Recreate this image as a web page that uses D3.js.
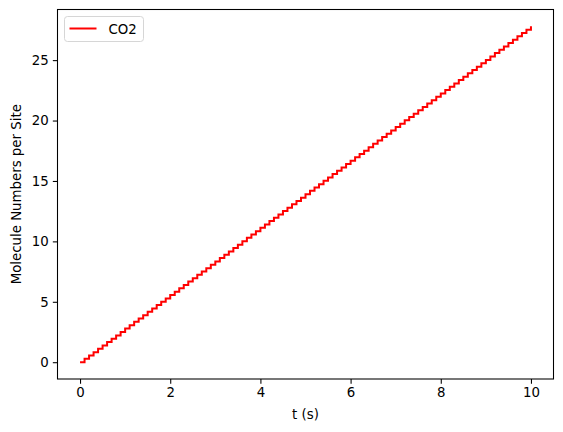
<!DOCTYPE html>
<html>
<head>
<meta charset="utf-8">
<script src="https://cdn.jsdelivr.net/npm/d3@7"></script>
<style>
  body { margin: 0; background: #fff; }
  svg { font-family: "DejaVu Sans", sans-serif; }
</style>
</head>
<body>
<script>
// time points (s)
var tValues = [0, 0.1, 0.2, 0.3, 0.4, 0.5, 0.6, 0.7, 0.8, 0.9,
    1.0, 1.1, 1.2, 1.3, 1.4, 1.5, 1.6, 1.7, 1.8, 1.9,
    2.0, 2.1, 2.2, 2.3, 2.4, 2.5, 2.6, 2.7, 2.8, 2.9,
    3.0, 3.1, 3.2, 3.3, 3.4, 3.5, 3.6, 3.7, 3.8, 3.9,
    4.0, 4.1, 4.2, 4.3, 4.4, 4.5, 4.6, 4.7, 4.8, 4.9,
    5.0, 5.1, 5.2, 5.3, 5.4, 5.5, 5.6, 5.7, 5.8, 5.9,
    6.0, 6.1, 6.2, 6.3, 6.4, 6.5, 6.6, 6.7, 6.8, 6.9,
    7.0, 7.1, 7.2, 7.3, 7.4, 7.5, 7.6, 7.7, 7.8, 7.9,
    8.0, 8.1, 8.2, 8.3, 8.4, 8.5, 8.6, 8.7, 8.8, 8.9,
    9.0, 9.1, 9.2, 9.3, 9.4, 9.5, 9.6, 9.7, 9.8, 9.9, 10.0];
// CO2 molecule numbers per site
var co2Values = [0, 0.28, 0.56, 0.83, 1.11, 1.39, 1.67, 1.95, 2.22, 2.50,
    2.78, 3.06, 3.34, 3.61, 3.89, 4.17, 4.45, 4.73, 5.00, 5.28,
    5.56, 5.84, 6.12, 6.39, 6.67, 6.95, 7.23, 7.51, 7.78, 8.06,
    8.34, 8.62, 8.90, 9.17, 9.45, 9.73, 10.01, 10.29, 10.56, 10.84,
    11.12, 11.40, 11.68, 11.95, 12.23, 12.51, 12.79, 13.07, 13.34, 13.62,
    13.90, 14.18, 14.46, 14.73, 15.01, 15.29, 15.57, 15.85, 16.12, 16.40,
    16.68, 16.96, 17.24, 17.51, 17.79, 18.07, 18.35, 18.63, 18.90, 19.18,
    19.46, 19.74, 20.02, 20.29, 20.57, 20.85, 21.13, 21.41, 21.68, 21.96,
    22.24, 22.52, 22.80, 23.07, 23.35, 23.63, 23.91, 24.19, 24.46, 24.74,
    25.02, 25.30, 25.58, 25.85, 26.13, 26.41, 26.69, 26.97, 27.24, 27.52, 27.80];
var xTicks = [0, 2, 4, 6, 8, 10];
var yTicks = [0, 5, 10, 15, 20, 25];
var seriesName = "CO2";

var width = 563, height = 432;
var margin = { left: 57.5, top: 9.5, right: 9.5, bottom: 53 };
var plotW = width - margin.left - margin.right,
    plotH = height - margin.top - margin.bottom;

var svg = d3.select("body").append("svg")
    .attr("width", width)
    .attr("height", height);

var g = svg.append("g")
    .attr("transform", "translate(" + margin.left + "," + margin.top + ")");

//matplotlib style 5% padding on data range
var xMin = d3.min(tValues), xMax = d3.max(tValues),
    yMin = d3.min(co2Values), yMax = d3.max(co2Values);
var xPad = (xMax - xMin) * 0.05, yPad = (yMax - yMin) * 0.05;

var x = d3.scaleLinear().domain([xMin - xPad, xMax + xPad]).range([0, plotW]);
var y = d3.scaleLinear().domain([yMin - yPad, yMax + yPad]).range([plotH, 0]);

var data = tValues.map(function(t, i){ return { t: t, v: co2Values[i] }; });

//step line
var line = d3.line()
    .x(function(d){ return x(d.t); })
    .y(function(d){ return y(d.v); })
    .curve(d3.curveStepAfter);

g.append("path")
    .datum(data)
    .attr("fill", "none")
    .attr("stroke", "#ff0000")
    .attr("stroke-width", 2)
    .attr("d", line);

//axes
var xAxis = g.append("g")
    .attr("transform", "translate(0," + plotH + ")")
    .call(d3.axisBottom(x).tickValues(xTicks).tickSize(4.67).tickPadding(4.2).tickFormat(d3.format("d")));
var yAxis = g.append("g")
    .call(d3.axisLeft(y).tickValues(yTicks).tickSize(4.67).tickPadding(4.2).tickFormat(d3.format("d")));

[xAxis, yAxis].forEach(function(a){
    a.select(".domain").remove();
    a.selectAll("line").attr("stroke", "#000").attr("stroke-width", 1.07);
    a.selectAll("text").attr("fill", "#000").style("font-size", "13.33px")
        .style("font-family", "'DejaVu Sans', sans-serif");
});

//frame
g.append("rect")
    .attr("width", plotW)
    .attr("height", plotH)
    .attr("fill", "none")
    .attr("stroke", "#000")
    .attr("stroke-width", 1.07);

//axis labels
svg.append("text")
    .attr("x", margin.left + plotW / 2)
    .attr("y", 419)
    .attr("text-anchor", "middle")
    .style("font-size", "13.33px")
    .text("t (s)");

svg.append("text")
    .attr("transform", "translate(21," + (margin.top + plotH / 2) + ") rotate(-90)")
    .attr("text-anchor", "middle")
    .style("font-size", "13.33px")
    .text("Molecule Numbers per Site");

//legend
var legend = svg.append("g")
    .attr("transform", "translate(64.5,16.5)");
legend.append("rect")
    .attr("width", 79)
    .attr("height", 25)
    .attr("rx", 3)
    .attr("fill", "#fff")
    .attr("fill-opacity", 0.8)
    .attr("stroke", "#d6d6d6")
    .attr("stroke-width", 1);
legend.append("line")
    .attr("x1", 5).attr("x2", 32)
    .attr("y1", 12).attr("y2", 12)
    .attr("stroke", "#ff0000")
    .attr("stroke-width", 2);
legend.append("text")
    .attr("x", 44)
    .attr("y", 17)
    .style("font-size", "13.33px")
    .text(seriesName);
</script>
</body>
</html>
